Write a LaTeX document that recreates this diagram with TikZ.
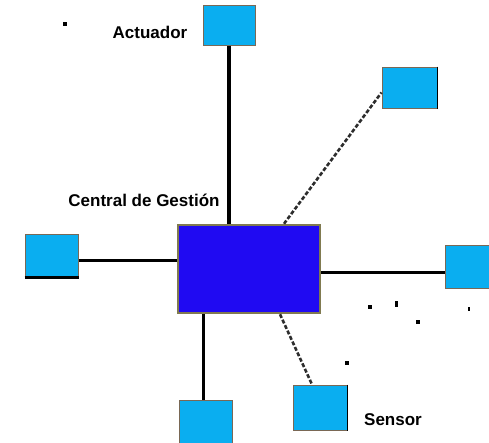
\documentclass[tikz,border=0pt]{standalone}
\usepackage{fontspec}
\setmainfont{Liberation Sans}
\usetikzlibrary{calc}
\definecolor{devfill}{RGB}{10,174,240}
\definecolor{devedge}{RGB}{122,104,85}
\definecolor{hubfill}{RGB}{32,10,242}
\definecolor{hubedge}{RGB}{128,122,80}
\definecolor{dashgray}{RGB}{45,45,45}
\tikzset{
  device/.style={draw=devedge, fill=devfill, line width=1pt, inner sep=0pt},
  hub/.style={draw=hubedge, fill=hubfill, line width=2.5pt, inner sep=0pt,
    minimum width=142pt, minimum height=88pt},
  wire/.style={line width=3.5pt, black},
  radiolink/.style={line width=2.6pt, dashgray, dash pattern=on 4pt off 2pt},
  caption/.style={font=\fontsize{17}{17}\selectfont\bfseries, inner sep=0pt},
  speck/.style={fill=black, inner sep=0pt, minimum size=4pt}
}
\begin{document}
\begin{tikzpicture}[x=1pt, y=-1pt]
\useasboundingbox (0,0) rectangle (489,442);

% central management unit
\node[hub] (central) at (249,269) {};

% peripheral devices
\node[device, minimum width=52pt, minimum height=40pt] (act) at (229,25) {};
\node[device, minimum width=55pt, minimum height=41pt] (tr) at (409.5,87.5) {};
\node[device, minimum width=53pt, minimum height=43pt] (lft) at (51.5,255.5) {};
\node[device, minimum width=55pt, minimum height=43pt] (rgt) at (472.5,266.5) {};
\node[device, minimum width=53pt, minimum height=50pt] (bot) at (205.5,425) {};
\node[device, minimum width=54pt, minimum height=45pt] (sen) at (320,407.5) {};

% darker edges on some devices
\draw[line width=1.5pt, black] (tr.north east) -- (tr.south east);
\draw[line width=2.5pt, black] (lft.south west) -- (lft.south east);
\draw[line width=1.5pt, black] (sen.north east) -- (sen.south east);

% wired links
\draw[wire] (act.south) -- (act.south |- central.north);
\draw[wire] ([yshift=-5pt]lft.east) -- ([yshift=-5pt]lft.east -| central.west);
\draw[wire] ([yshift=-6pt]rgt.west) -- ([yshift=-6pt]rgt.west -| central.east);
\draw[wire] ([xshift=-2pt]bot.north) -- ([xshift=-2pt]bot.north |- central.south);

% wireless links
\draw[radiolink] ([xshift=35pt]central.north) -- ([yshift=-5pt]tr.west);
\draw[radiolink] ([xshift=31pt]central.south) -- ([xshift=-8pt]sen.north);

% labels
\node[caption] (lact) at (150,32) {Actuador};
\node[caption] (lcen) at (144,200) {Central de Gestión};
\node[caption] (lsen) at (393,420) {Sensor};

% stray specks
\node[speck] (s1) at (65,24) {};
\node[speck] (s2) at (370,307) {};
\node[speck, minimum width=3pt, minimum height=6pt] (s3) at (396,304) {};
\node[speck] (s4) at (418,322) {};
\node[speck] (s5) at (347,363) {};
\node[speck, minimum width=2pt] (s6) at (469,309) {};
\end{tikzpicture}
\end{document}
